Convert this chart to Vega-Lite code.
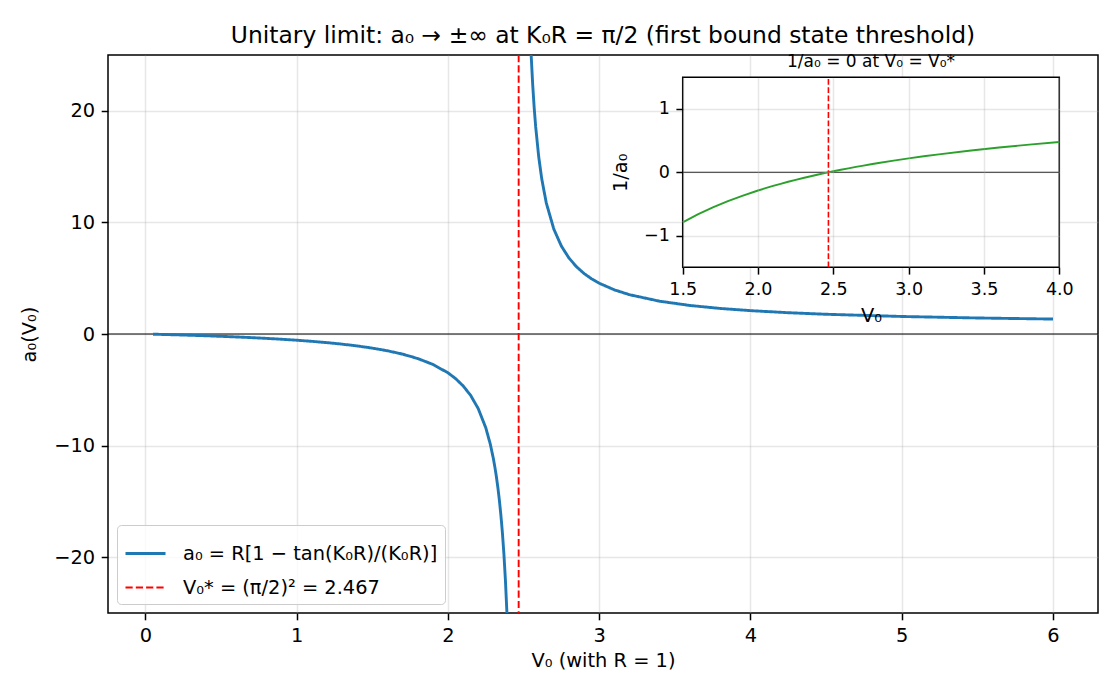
{
  "$schema": "https://vega.github.io/schema/vega-lite/v6.json",
  "autosize": {"type": "none"},
  "width": 990,
  "height": 558,
  "padding": {"left": 108, "top": 55, "right": 22, "bottom": 87},
  "background": "#ffffff",
  "title": {
    "text": "Unitary limit: a₀ → ±∞ at K₀R = π/2 (first bound state threshold)",
    "font": "DejaVu Sans", "fontSize": 23.4, "fontWeight": "normal", "color": "#000000",
    "anchor": "middle", "baseline": "alphabetic", "offset": -13
  },
  "datasets": {
    "curve": [
      {"V0": 0.05, "a0": -0.0170, "branch": "L", "series": "a₀ = R[1 − tan(K₀R)/(K₀R)]"},
      {"V0": 0.1, "a0": -0.0347, "branch": "L", "series": "a₀ = R[1 − tan(K₀R)/(K₀R)]"},
      {"V0": 0.2, "a0": -0.0725, "branch": "L", "series": "a₀ = R[1 − tan(K₀R)/(K₀R)]"},
      {"V0": 0.3, "a0": -0.1137, "branch": "L", "series": "a₀ = R[1 − tan(K₀R)/(K₀R)]"},
      {"V0": 0.4, "a0": -0.1588, "branch": "L", "series": "a₀ = R[1 − tan(K₀R)/(K₀R)]"},
      {"V0": 0.5, "a0": -0.2085, "branch": "L", "series": "a₀ = R[1 − tan(K₀R)/(K₀R)]"},
      {"V0": 0.6, "a0": -0.2634, "branch": "L", "series": "a₀ = R[1 − tan(K₀R)/(K₀R)]"},
      {"V0": 0.7, "a0": -0.3245, "branch": "L", "series": "a₀ = R[1 − tan(K₀R)/(K₀R)]"},
      {"V0": 0.8, "a0": -0.3929, "branch": "L", "series": "a₀ = R[1 − tan(K₀R)/(K₀R)]"},
      {"V0": 0.9, "a0": -0.4699, "branch": "L", "series": "a₀ = R[1 − tan(K₀R)/(K₀R)]"},
      {"V0": 1.0, "a0": -0.5574, "branch": "L", "series": "a₀ = R[1 − tan(K₀R)/(K₀R)]"},
      {"V0": 1.1, "a0": -0.6576, "branch": "L", "series": "a₀ = R[1 − tan(K₀R)/(K₀R)]"},
      {"V0": 1.2, "a0": -0.7735, "branch": "L", "series": "a₀ = R[1 − tan(K₀R)/(K₀R)]"},
      {"V0": 1.3, "a0": -0.9093, "branch": "L", "series": "a₀ = R[1 − tan(K₀R)/(K₀R)]"},
      {"V0": 1.4, "a0": -1.0703, "branch": "L", "series": "a₀ = R[1 − tan(K₀R)/(K₀R)]"},
      {"V0": 1.5, "a0": -1.2645, "branch": "L", "series": "a₀ = R[1 − tan(K₀R)/(K₀R)]"},
      {"V0": 1.6, "a0": -1.5034, "branch": "L", "series": "a₀ = R[1 − tan(K₀R)/(K₀R)]"},
      {"V0": 1.7, "a0": -1.8044, "branch": "L", "series": "a₀ = R[1 − tan(K₀R)/(K₀R)]"},
      {"V0": 1.8, "a0": -2.1955, "branch": "L", "series": "a₀ = R[1 − tan(K₀R)/(K₀R)]"},
      {"V0": 1.9, "a0": -2.7242, "branch": "L", "series": "a₀ = R[1 − tan(K₀R)/(K₀R)]"},
      {"V0": 2.0, "a0": -3.4789, "branch": "L", "series": "a₀ = R[1 − tan(K₀R)/(K₀R)]"},
      {"V0": 2.05, "a0": -3.9918, "branch": "L", "series": "a₀ = R[1 − tan(K₀R)/(K₀R)]"},
      {"V0": 2.1, "a0": -4.6441, "branch": "L", "series": "a₀ = R[1 − tan(K₀R)/(K₀R)]"},
      {"V0": 2.15, "a0": -5.5020, "branch": "L", "series": "a₀ = R[1 − tan(K₀R)/(K₀R)]"},
      {"V0": 2.2, "a0": -6.6805, "branch": "L", "series": "a₀ = R[1 − tan(K₀R)/(K₀R)]"},
      {"V0": 2.25, "a0": -8.4010, "branch": "L", "series": "a₀ = R[1 − tan(K₀R)/(K₀R)]"},
      {"V0": 2.28, "a0": -9.8738, "branch": "L", "series": "a₀ = R[1 − tan(K₀R)/(K₀R)]"},
      {"V0": 2.30, "a0": -11.1490, "branch": "L", "series": "a₀ = R[1 − tan(K₀R)/(K₀R)]"},
      {"V0": 2.31, "a0": -11.9081, "branch": "L", "series": "a₀ = R[1 − tan(K₀R)/(K₀R)]"},
      {"V0": 2.32, "a0": -12.7702, "branch": "L", "series": "a₀ = R[1 − tan(K₀R)/(K₀R)]"},
      {"V0": 2.33, "a0": -13.7577, "branch": "L", "series": "a₀ = R[1 − tan(K₀R)/(K₀R)]"},
      {"V0": 2.34, "a0": -14.9004, "branch": "L", "series": "a₀ = R[1 − tan(K₀R)/(K₀R)]"},
      {"V0": 2.35, "a0": -16.2376, "branch": "L", "series": "a₀ = R[1 − tan(K₀R)/(K₀R)]"},
      {"V0": 2.36, "a0": -17.8238, "branch": "L", "series": "a₀ = R[1 − tan(K₀R)/(K₀R)]"},
      {"V0": 2.37, "a0": -19.7358, "branch": "L", "series": "a₀ = R[1 − tan(K₀R)/(K₀R)]"},
      {"V0": 2.38, "a0": -22.0852, "branch": "L", "series": "a₀ = R[1 − tan(K₀R)/(K₀R)]"},
      {"V0": 2.39, "a0": -25.0417, "branch": "L", "series": "a₀ = R[1 − tan(K₀R)/(K₀R)]"},
      {"V0": 2.40, "a0": -28.876, "branch": "L", "series": "a₀ = R[1 − tan(K₀R)/(K₀R)]"},
      {"V0": 2.54, "a0": 28.3455, "branch": "R", "series": "a₀ = R[1 − tan(K₀R)/(K₀R)]"},
      {"V0": 2.55, "a0": 25.0102, "branch": "R", "series": "a₀ = R[1 − tan(K₀R)/(K₀R)]"},
      {"V0": 2.56, "a0": 22.3953, "branch": "R", "series": "a₀ = R[1 − tan(K₀R)/(K₀R)]"},
      {"V0": 2.57, "a0": 20.2902, "branch": "R", "series": "a₀ = R[1 − tan(K₀R)/(K₀R)]"},
      {"V0": 2.58, "a0": 18.5589, "branch": "R", "series": "a₀ = R[1 − tan(K₀R)/(K₀R)]"},
      {"V0": 2.60, "a0": 15.8797, "branch": "R", "series": "a₀ = R[1 − tan(K₀R)/(K₀R)]"},
      {"V0": 2.62, "a0": 13.9027, "branch": "R", "series": "a₀ = R[1 − tan(K₀R)/(K₀R)]"},
      {"V0": 2.65, "a0": 11.7492, "branch": "R", "series": "a₀ = R[1 − tan(K₀R)/(K₀R)]"},
      {"V0": 2.7, "a0": 9.3944, "branch": "R", "series": "a₀ = R[1 − tan(K₀R)/(K₀R)]"},
      {"V0": 2.75, "a0": 7.8728, "branch": "R", "series": "a₀ = R[1 − tan(K₀R)/(K₀R)]"},
      {"V0": 2.8, "a0": 6.8086, "branch": "R", "series": "a₀ = R[1 − tan(K₀R)/(K₀R)]"},
      {"V0": 2.85, "a0": 6.0224, "branch": "R", "series": "a₀ = R[1 − tan(K₀R)/(K₀R)]"},
      {"V0": 2.9, "a0": 5.4180, "branch": "R", "series": "a₀ = R[1 − tan(K₀R)/(K₀R)]"},
      {"V0": 2.95, "a0": 4.9386, "branch": "R", "series": "a₀ = R[1 − tan(K₀R)/(K₀R)]"},
      {"V0": 3.0, "a0": 4.5493, "branch": "R", "series": "a₀ = R[1 − tan(K₀R)/(K₀R)]"},
      {"V0": 3.1, "a0": 3.9550, "branch": "R", "series": "a₀ = R[1 − tan(K₀R)/(K₀R)]"},
      {"V0": 3.2, "a0": 3.5229, "branch": "R", "series": "a₀ = R[1 − tan(K₀R)/(K₀R)]"},
      {"V0": 3.4, "a0": 2.9361, "branch": "R", "series": "a₀ = R[1 − tan(K₀R)/(K₀R)]"},
      {"V0": 3.6, "a0": 2.5561, "branch": "R", "series": "a₀ = R[1 − tan(K₀R)/(K₀R)]"},
      {"V0": 3.8, "a0": 2.2897, "branch": "R", "series": "a₀ = R[1 − tan(K₀R)/(K₀R)]"},
      {"V0": 4.0, "a0": 2.0925, "branch": "R", "series": "a₀ = R[1 − tan(K₀R)/(K₀R)]"},
      {"V0": 4.25, "a0": 1.9078, "branch": "R", "series": "a₀ = R[1 − tan(K₀R)/(K₀R)]"},
      {"V0": 4.5, "a0": 1.7680, "branch": "R", "series": "a₀ = R[1 − tan(K₀R)/(K₀R)]"},
      {"V0": 5.0, "a0": 1.5700, "branch": "R", "series": "a₀ = R[1 − tan(K₀R)/(K₀R)]"},
      {"V0": 5.5, "a0": 1.4359, "branch": "R", "series": "a₀ = R[1 − tan(K₀R)/(K₀R)]"},
      {"V0": 6.0, "a0": 1.3384, "branch": "R", "series": "a₀ = R[1 − tan(K₀R)/(K₀R)]"}
    ],
    "vline": [
      {"V0": 2.4674, "series": "V₀* = (π/2)² = 2.467"}
    ],
    "insetbox": [
      {"x1": 1.5, "x2": 4.0, "y1": -1.5, "y2": 1.5, "ymid": 0, "xmid": 2.75, "label": "1/a₀ = 0 at V₀ = V₀*"}
    ],
    "inset": [
      {"V0": 1.5, "inv": -0.7908},
      {"V0": 1.6, "inv": -0.6652},
      {"V0": 1.7, "inv": -0.5542},
      {"V0": 1.8, "inv": -0.4555},
      {"V0": 1.9, "inv": -0.3671},
      {"V0": 2.0, "inv": -0.2874},
      {"V0": 2.05, "inv": -0.2505},
      {"V0": 2.1, "inv": -0.2153},
      {"V0": 2.15, "inv": -0.1818},
      {"V0": 2.2, "inv": -0.1497},
      {"V0": 2.25, "inv": -0.1190},
      {"V0": 2.3, "inv": -0.0897},
      {"V0": 2.35, "inv": -0.0616},
      {"V0": 2.4, "inv": -0.0346},
      {"V0": 2.45, "inv": -0.0088},
      {"V0": 2.5, "inv": 0.0161},
      {"V0": 2.55, "inv": 0.0400},
      {"V0": 2.6, "inv": 0.0630},
      {"V0": 2.65, "inv": 0.0851},
      {"V0": 2.7, "inv": 0.1064},
      {"V0": 2.75, "inv": 0.1270},
      {"V0": 2.8, "inv": 0.1469},
      {"V0": 2.9, "inv": 0.1846},
      {"V0": 3.0, "inv": 0.2198},
      {"V0": 3.1, "inv": 0.2528},
      {"V0": 3.2, "inv": 0.2839},
      {"V0": 3.4, "inv": 0.3406},
      {"V0": 3.6, "inv": 0.3912},
      {"V0": 3.8, "inv": 0.4367},
      {"V0": 4.0, "inv": 0.4779}
    ]
  },
  "layer": [
    {
      "layer": [
        {
          "data": {"name": "vline"},
          "mark": {"type": "rule", "color": "#000000", "strokeWidth": 1},
          "encoding": {
            "y": {"datum": 0, "type": "quantitative", "scale": {"domain": [-25, 25], "nice": false, "zero": false}}
          }
        },
        {
          "data": {"name": "curve"},
          "mark": {"type": "line", "clip": true},
          "encoding": {
            "x": {"field": "V0", "type": "quantitative",
                  "scale": {"domain": [-0.2475, 6.2975], "nice": false, "zero": false},
                  "axis": {"orient": "bottom", "title": "V₀ (with R = 1)", "values": [0, 1, 2, 3, 4, 5, 6], "format": "d", "titlePadding": 7}},
            "y": {"field": "a0", "type": "quantitative",
                  "scale": {"domain": [-25, 25], "nice": false, "zero": false},
                  "axis": {"orient": "left", "title": "a₀(V₀)", "values": [-20, -10, 0, 10, 20], "format": "d", "titlePadding": 14}},
            "detail": {"field": "branch"},
            "color": {"field": "series", "type": "nominal",
                      "scale": {"domain": ["a₀ = R[1 − tan(K₀R)/(K₀R)]", "V₀* = (π/2)² = 2.467"], "range": ["#1f77b4", "#ff0000"]},
                      "legend": {"title": null}},
            "strokeDash": {"field": "series", "type": "nominal",
                      "scale": {"domain": ["a₀ = R[1 − tan(K₀R)/(K₀R)]", "V₀* = (π/2)² = 2.467"], "range": [[1, 0], [7.2, 3.1]]}},
            "strokeWidth": {"field": "series", "type": "nominal",
                      "scale": {"domain": ["a₀ = R[1 − tan(K₀R)/(K₀R)]", "V₀* = (π/2)² = 2.467"], "range": [2.9, 1.9]}}
          }
        },
        {
          "data": {"name": "vline"},
          "mark": {"type": "rule"},
          "encoding": {
            "x": {"field": "V0", "type": "quantitative",
                  "scale": {"domain": [-0.2475, 6.2975], "nice": false, "zero": false}},
            "color": {"field": "series", "type": "nominal",
                      "scale": {"domain": ["a₀ = R[1 − tan(K₀R)/(K₀R)]", "V₀* = (π/2)² = 2.467"], "range": ["#1f77b4", "#ff0000"]}},
            "strokeDash": {"field": "series", "type": "nominal",
                      "scale": {"domain": ["a₀ = R[1 − tan(K₀R)/(K₀R)]", "V₀* = (π/2)² = 2.467"], "range": [[1, 0], [7.2, 3.1]]}},
            "strokeWidth": {"field": "series", "type": "nominal",
                      "scale": {"domain": ["a₀ = R[1 − tan(K₀R)/(K₀R)]", "V₀* = (π/2)² = 2.467"], "range": [2.9, 1.9]}}
          }
        }
      ]
    },
    {
      "layer": [
        {
          "data": {"name": "insetbox"},
          "mark": {"type": "rect", "fill": "#ffffff", "stroke": "#000000", "strokeWidth": 1.5},
          "encoding": {
            "x": {"field": "x1", "type": "quantitative", "scale": {"domain": [1.5, 4.0], "range": [574.7, 951.3], "nice": false, "zero": false}, "axis": null},
            "x2": {"field": "x2"},
            "y": {"field": "y1", "type": "quantitative", "scale": {"domain": [-1.5, 1.5], "range": [212.3, 22.3], "nice": false, "zero": false}, "axis": null},
            "y2": {"field": "y2"}
          }
        },
        {
          "data": {"name": "insetbox"},
          "mark": {"type": "rule", "color": "#000000", "strokeWidth": 1},
          "encoding": {
            "x": {"field": "x1", "type": "quantitative", "scale": {"domain": [1.5, 4.0], "range": [574.7, 951.3], "nice": false, "zero": false}, "axis": null},
            "x2": {"field": "x2"},
            "y": {"field": "ymid", "type": "quantitative", "scale": {"domain": [-1.5, 1.5], "range": [212.3, 22.3], "nice": false, "zero": false}, "axis": null}
          }
        },
        {
          "data": {"name": "inset"},
          "mark": {"type": "line", "color": "#2ca02c", "strokeWidth": 1.9},
          "encoding": {
            "x": {"field": "V0", "type": "quantitative",
                  "scale": {"domain": [1.5, 4.0], "range": [574.7, 951.3], "nice": false, "zero": false},
                  "axis": {"orient": "bottom", "offset": -345.7, "grid": false, "zindex": 1, "values": [1.5, 2.0, 2.5, 3.0, 3.5, 4.0], "format": ".1f", "title": "V₀", "labelFontSize": 17.5, "titlePadding": 8}},
            "y": {"field": "inv", "type": "quantitative",
                  "scale": {"domain": [-1.5, 1.5], "range": [212.3, 22.3], "nice": false, "zero": false},
                  "axis": {"orient": "left", "offset": -574.7, "grid": true, "zindex": 1, "values": [-1, 0, 1], "format": "d", "title": "1/a₀", "labelFontSize": 17.5, "titlePadding": 13}}
          }
        },
        {
          "data": {"name": "vline"},
          "mark": {"type": "rule", "color": "#ff0000", "strokeWidth": 1.6, "strokeDash": [5.8, 2.5]},
          "encoding": {
            "x": {"field": "V0", "type": "quantitative",
                  "scale": {"domain": [1.5, 4.0], "range": [574.7, 951.3], "nice": false, "zero": false},
                  "axis": {"orient": "top", "grid": true, "zindex": 1, "labels": false, "ticks": false, "domain": false, "title": null, "values": [1.5, 2.0, 2.5, 3.0, 3.5, 4.0]}},
            "y": {"datum": -1.5, "type": "quantitative", "scale": {"domain": [-1.5, 1.5], "range": [212.3, 22.3], "nice": false, "zero": false}, "axis": null},
            "y2": {"datum": 1.5}
          }
        },
        {
          "data": {"name": "insetbox"},
          "mark": {"type": "text", "font": "DejaVu Sans", "fontSize": 17, "color": "#000000", "baseline": "bottom", "align": "center", "dy": -6},
          "encoding": {
            "x": {"field": "xmid", "type": "quantitative", "scale": {"domain": [1.5, 4.0], "range": [574.7, 951.3], "nice": false, "zero": false}, "axis": null},
            "y": {"field": "y2", "type": "quantitative", "scale": {"domain": [-1.5, 1.5], "range": [212.3, 22.3], "nice": false, "zero": false}, "axis": null},
            "text": {"field": "label"}
          }
        }
      ],
      "resolve": {"axis": {"x": "independent", "y": "independent"}}
    }
  ],
  "resolve": {"scale": {"x": "independent", "y": "independent"}},
  "config": {
    "font": "DejaVu Sans",
    "view": {"stroke": "#000000", "strokeWidth": 1.5},
    "axis": {
      "labelFont": "DejaVu Sans", "labelFontSize": 19.4, "labelColor": "#000000",
      "titleFont": "DejaVu Sans", "titleFontSize": 19.4, "titleFontWeight": "normal", "titleColor": "#000000",
      "tickColor": "#000000", "tickSize": 6.8, "tickWidth": 1.5, "labelPadding": 6.5,
      "domain": false, "grid": true, "gridColor": "#b0b0b0", "gridOpacity": 0.3, "gridWidth": 1.5,
      "labelFlush": false, "labelOverlap": false
    },
    "legend": {
      "orient": "bottom-left", "offset": 9, "padding": 7,
      "labelFont": "DejaVu Sans", "labelFontSize": 19.4, "labelColor": "#000000", "labelOffset": 16, "labelLimit": 500,
      "symbolType": "stroke", "symbolSize": 1600,
      "fillColor": "rgba(255,255,255,0.8)", "strokeColor": "#cccccc", "cornerRadius": 4,
      "rowPadding": 3.5
    }
  }
}
